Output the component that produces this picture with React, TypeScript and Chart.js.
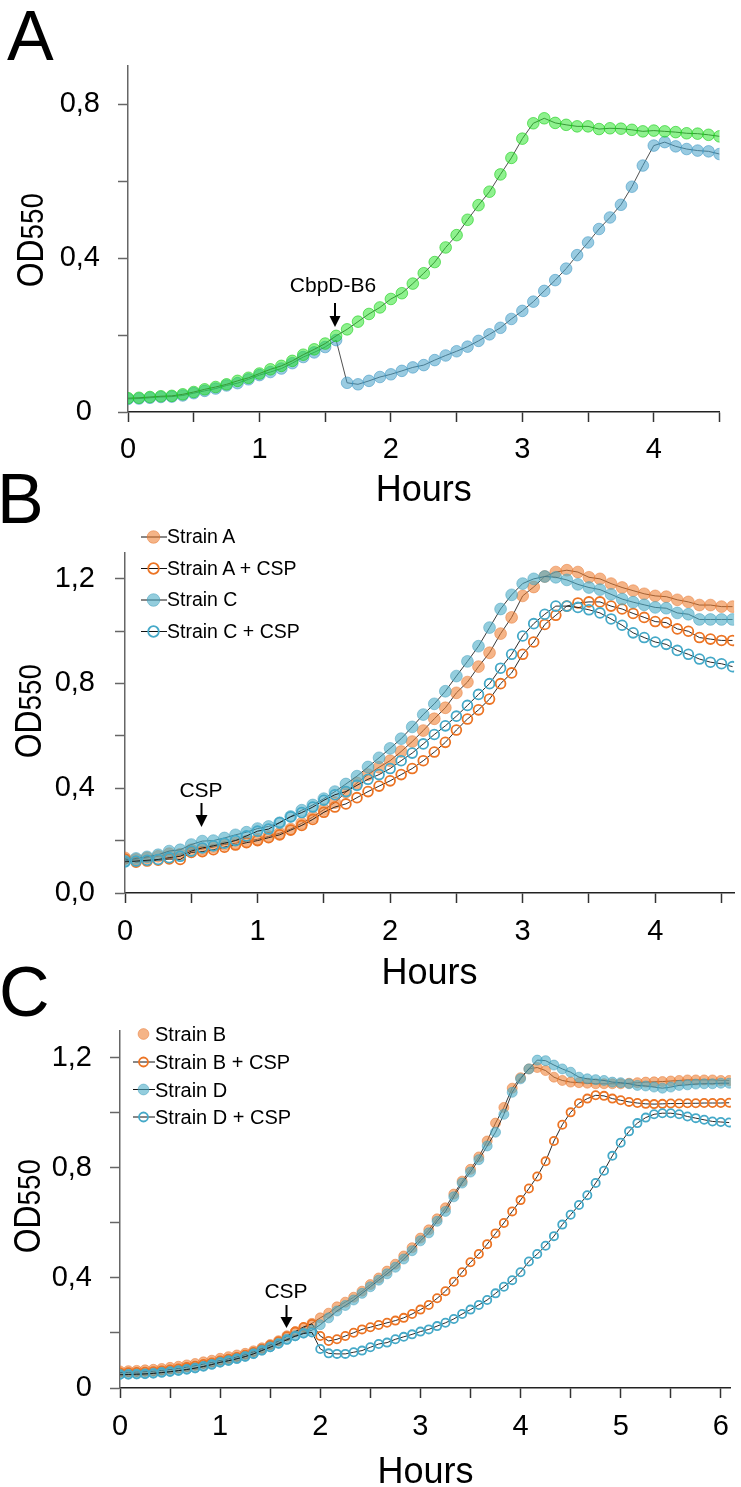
import React, { useEffect, useRef } from 'react';
import { Chart, registerables } from 'chart.js';

Chart.register(...registerables);

const FONT = '"Liberation Sans", Arial, Helvetica, sans-serif';
const SAMPLE_H = 5 / 60; // one reading every 5 minutes

// ---------------- Panel A ----------------
const A_CBPD = [
  0.034, 0.035, 0.037, 0.039, 0.040, 0.043, 0.049, 0.055, 0.061, 0.069,
  0.075, 0.085, 0.096, 0.104, 0.113, 0.127, 0.143, 0.155, 0.169, 0.187,
  0.076, 0.072, 0.081, 0.091, 0.098, 0.107, 0.116, 0.122, 0.135, 0.147,
  0.158, 0.170, 0.185, 0.202, 0.219, 0.242, 0.263, 0.287, 0.315, 0.343,
  0.373, 0.408, 0.441, 0.476, 0.506, 0.539, 0.586, 0.641, 0.693, 0.702,
  0.691, 0.684, 0.680, 0.678, 0.671,
];
const A_CONTROL = [
  0.036, 0.037, 0.039, 0.041, 0.042, 0.046, 0.052, 0.059, 0.065, 0.072,
  0.081, 0.089, 0.100, 0.111, 0.120, 0.133, 0.149, 0.163, 0.178, 0.198,
  0.215, 0.235, 0.255, 0.272, 0.294, 0.309, 0.334, 0.361, 0.390, 0.428,
  0.460, 0.500, 0.538, 0.573, 0.618, 0.661, 0.711, 0.751, 0.764, 0.752,
  0.747, 0.743, 0.743, 0.736, 0.738, 0.737, 0.734, 0.730, 0.732, 0.730,
  0.728, 0.725, 0.724, 0.721, 0.717,
];
const A_X_TICKS = [0, 0.5, 1, 1.5, 2, 2.5, 3, 3.5, 4, 4.5];
const A_X_LABELS = ['0', '', '1', '', '2', '', '3', '', '4', ''];
const A_Y_TICKS = [0, 0.2, 0.4, 0.6, 0.8];
const A_Y_LABELS = ['0\u2008', '', '0,4', '', '0,8'];

// ---------------- Panel B ----------------
const B_STRAIN_A = [
  0.134, 0.128, 0.134, 0.140, 0.150, 0.148, 0.165, 0.168, 0.175, 0.185,
  0.190, 0.198, 0.205, 0.216, 0.228, 0.244, 0.266, 0.290, 0.318, 0.345,
  0.385, 0.420, 0.452, 0.480, 0.505, 0.540, 0.578, 0.620, 0.665, 0.707,
  0.764, 0.805, 0.864, 0.917, 0.990, 1.052, 1.134, 1.168, 1.208, 1.225,
  1.232, 1.225, 1.205, 1.199, 1.181, 1.166, 1.154, 1.142, 1.134, 1.131,
  1.119, 1.111, 1.099, 1.099, 1.093, 1.093,
];
const B_STRAIN_A_CSP = [
  0.130, 0.118, 0.122, 0.125, 0.130, 0.128, 0.155, 0.158, 0.165, 0.175,
  0.183, 0.192, 0.200, 0.211, 0.222, 0.240, 0.258, 0.281, 0.308, 0.328,
  0.340, 0.364, 0.387, 0.408, 0.428, 0.452, 0.475, 0.505, 0.538, 0.575,
  0.622, 0.664, 0.699, 0.740, 0.799, 0.840, 0.911, 0.958, 1.025, 1.060,
  1.095, 1.107, 1.111, 1.111, 1.095, 1.084, 1.067, 1.052, 1.036, 1.032,
  1.008, 0.999, 0.975, 0.969, 0.964, 0.964,
];
const B_STRAIN_C = [
  0.122, 0.132, 0.138, 0.146, 0.160, 0.165, 0.185, 0.198, 0.200, 0.210,
  0.222, 0.232, 0.246, 0.254, 0.268, 0.292, 0.316, 0.336, 0.360, 0.387,
  0.416, 0.446, 0.481, 0.516, 0.552, 0.589, 0.634, 0.681, 0.722, 0.770,
  0.828, 0.884, 0.942, 1.013, 1.084, 1.138, 1.181, 1.199, 1.208, 1.205,
  1.195, 1.178, 1.166, 1.158, 1.140, 1.122, 1.110, 1.100, 1.090, 1.087,
  1.069, 1.064, 1.044, 1.044, 1.044, 1.044,
];
const B_STRAIN_C_CSP = [
  0.119, 0.122, 0.125, 0.128, 0.135, 0.140, 0.160, 0.172, 0.180, 0.190,
  0.200, 0.218, 0.236, 0.244, 0.269, 0.291, 0.307, 0.328, 0.354, 0.375,
  0.387, 0.411, 0.434, 0.452, 0.475, 0.505, 0.534, 0.569, 0.605, 0.638,
  0.675, 0.716, 0.758, 0.799, 0.858, 0.911, 0.981, 1.028, 1.064, 1.095,
  1.095, 1.090, 1.081, 1.069, 1.046, 1.022, 0.993, 0.975, 0.958, 0.949,
  0.926, 0.911, 0.893, 0.881, 0.875, 0.864,
];
const B_X_TICKS = [0, 0.5, 1, 1.5, 2, 2.5, 3, 3.5, 4, 4.5];
const B_X_LABELS = ['0', '', '1', '', '2', '', '3', '', '4', ''];
const B_Y_TICKS = [0, 0.2, 0.4, 0.6, 0.8, 1.0, 1.2];
const B_Y_LABELS = ['0,0', '', '0,4', '', '0,8', '', '1,2'];

// ---------------- Panel C ----------------
const C_STRAIN_B = [
  0.062, 0.063, 0.064, 0.066, 0.068, 0.071, 0.075, 0.079, 0.084, 0.089,
  0.095, 0.101, 0.108, 0.114, 0.120, 0.126, 0.135, 0.146, 0.158, 0.172,
  0.190, 0.205, 0.218, 0.235, 0.255, 0.272, 0.295, 0.312, 0.330, 0.352,
  0.376, 0.400, 0.425, 0.450, 0.480, 0.510, 0.545, 0.575, 0.615, 0.655,
  0.705, 0.752, 0.795, 0.840, 0.898, 0.963, 1.020, 1.090, 1.128, 1.160,
  1.165, 1.154, 1.130, 1.118, 1.112, 1.110, 1.108, 1.106, 1.106, 1.106,
  1.106, 1.108, 1.110, 1.112, 1.113, 1.114, 1.116, 1.118, 1.120, 1.120,
  1.120, 1.120, 1.118, 1.118,
];
const C_STRAIN_B_CSP = [
  0.056, 0.057, 0.058, 0.059, 0.061, 0.064, 0.067, 0.071, 0.076, 0.081,
  0.087, 0.093, 0.100, 0.106, 0.113, 0.121, 0.131, 0.143, 0.156, 0.170,
  0.188, 0.205, 0.222, 0.233, 0.189, 0.171, 0.177, 0.189, 0.201, 0.213,
  0.221, 0.229, 0.237, 0.245, 0.255, 0.269, 0.285, 0.302, 0.326, 0.352,
  0.386, 0.421, 0.457, 0.487, 0.523, 0.562, 0.600, 0.642, 0.683, 0.725,
  0.769, 0.824, 0.898, 0.957, 1.002, 1.035, 1.052, 1.064, 1.062, 1.052,
  1.046, 1.040, 1.036, 1.033, 1.032, 1.033, 1.034, 1.034, 1.035, 1.035,
  1.036, 1.036, 1.036, 1.037,
];
const C_STRAIN_D = [
  0.050, 0.050, 0.051, 0.052, 0.054, 0.057, 0.060, 0.064, 0.068, 0.073,
  0.079, 0.086, 0.094, 0.100, 0.107, 0.115, 0.125, 0.138, 0.150, 0.163,
  0.178, 0.190, 0.200, 0.210, 0.230, 0.255, 0.280, 0.300, 0.320, 0.344,
  0.368, 0.392, 0.415, 0.439, 0.469, 0.499, 0.535, 0.564, 0.606, 0.642,
  0.695, 0.745, 0.785, 0.830, 0.880, 0.930, 0.995, 1.075, 1.124, 1.160,
  1.192, 1.190, 1.174, 1.160, 1.148, 1.130, 1.124, 1.121, 1.118, 1.112,
  1.110, 1.106, 1.100, 1.098, 1.094, 1.090, 1.094, 1.100, 1.102, 1.105,
  1.106, 1.106, 1.108, 1.108,
];
const C_STRAIN_D_CSP = [
  0.048, 0.049, 0.050, 0.051, 0.053, 0.056, 0.059, 0.063, 0.067, 0.072,
  0.078, 0.085, 0.093, 0.099, 0.106, 0.114, 0.124, 0.136, 0.148, 0.161,
  0.175, 0.188, 0.198, 0.202, 0.142, 0.126, 0.124, 0.124, 0.130, 0.136,
  0.148, 0.160, 0.165, 0.177, 0.186, 0.195, 0.205, 0.213, 0.225, 0.237,
  0.251, 0.269, 0.285, 0.302, 0.320, 0.344, 0.368, 0.392, 0.421, 0.460,
  0.487, 0.517, 0.552, 0.594, 0.630, 0.665, 0.701, 0.745, 0.790, 0.844,
  0.892, 0.933, 0.963, 0.983, 0.995, 0.999, 0.999, 0.995, 0.987, 0.981,
  0.975, 0.969, 0.967, 0.965,
];
const C_X_TICKS = [0, 0.5, 1, 1.5, 2, 2.5, 3, 3.5, 4, 4.5, 5, 5.5, 6];
const C_X_LABELS = ['0', '', '1', '', '2', '', '3', '', '4', '', '5', '', '6'];
const C_Y_TICKS = [0, 0.2, 0.4, 0.6, 0.8, 1.0, 1.2];
const C_Y_LABELS = ['0', '', '0,4', '', '0,8', '', '1,2'];

// ---------------- styles ----------------
const ORANGE = '#EC7424';
const ORANGE_FILL = 'rgba(237,125,49,0.58)';
const ORANGE_EDGE = 'rgba(232,120,50,0.5)';
const BLUE = '#45A9C8';
const BLUE_FILL = 'rgba(75,172,198,0.6)';
const BLUE_EDGE = 'rgba(65,160,190,0.5)';
const GREEN_FILL = 'rgba(30,228,30,0.5)';
const GREEN_EDGE = 'rgba(25,205,25,0.6)';
const LBLUE_FILL = 'rgba(70,160,200,0.55)';
const LBLUE_EDGE = 'rgba(60,150,195,0.55)';

interface SeriesDef {
  label: string;
  values: number[];
  fill: string;
  edge: string;
  edgeW: number;
  r: number;
  line: string;
  lw: number;
  legendLine?: boolean;
}

interface PanelDef {
  top: number;
  height: number;
  yAxisW: number;
  xAxisH: number;
  padTop: number;
  padRight: number;
  xMax: number;
  yMax: number;
  xTicks: number[];
  xLabels: string[];
  yTicks: number[];
  yLabels: string[];
  xPad: number;
  yPad: number;
  titlePad: number;
  series: SeriesDef[];
}

const filled = (label: string, values: number[], fill: string, edge: string, r: number, line: string, lw: number, legendLine = true): SeriesDef =>
  ({ label, values, fill, edge, edgeW: 1, r, line, lw, legendLine });
const open = (label: string, values: number[], color: string, r: number, lw: number): SeriesDef =>
  ({ label, values, fill: 'rgba(255,255,255,0)', edge: color, edgeW: 1.8, r, line: '#111', lw, legendLine: true });

const PANEL_A: PanelDef = {
  top: 0, height: 515, yAxisW: 128, xAxisH: 103, padTop: 66, padRight: 21.5,
  xMax: 4.5, yMax: 0.9,
  xTicks: A_X_TICKS, xLabels: A_X_LABELS, yTicks: A_Y_TICKS, yLabels: A_Y_LABELS,
  xPad: 11, yPad: 18, titlePad: 5.5,
  series: [
    filled('CbpD-B6', A_CBPD, LBLUE_FILL, LBLUE_EDGE, 5.8, '#505050', 1),
    filled('Control', A_CONTROL, GREEN_FILL, GREEN_EDGE, 5.8, '#505050', 1),
  ],
};

const SERIES_B: SeriesDef[] = [
  filled('Strain A', B_STRAIN_A, ORANGE_FILL, ORANGE_EDGE, 5.9, '#222', 0.9),
  open('Strain A + CSP', B_STRAIN_A_CSP, ORANGE, 4.9, 0.9),
  filled('Strain C', B_STRAIN_C, BLUE_FILL, BLUE_EDGE, 5.9, '#222', 0.9),
  open('Strain C + CSP', B_STRAIN_C_CSP, BLUE, 4.9, 0.9),
];

const PANEL_B: PanelDef = {
  top: 515, height: 480, yAxisW: 125, xAxisH: 102, padTop: 11, padRight: 0,
  xMax: 4.595, yMax: 1.3,
  xTicks: B_X_TICKS, xLabels: B_X_LABELS, yTicks: B_Y_TICKS, yLabels: B_Y_LABELS,
  xPad: 12, yPad: 20, titlePad: 2.5,
  series: SERIES_B,
};

const SERIES_C: SeriesDef[] = [
  filled('Strain B', C_STRAIN_B, ORANGE_FILL, ORANGE_EDGE, 5, '#222', 0.9, false),
  open('Strain B + CSP', C_STRAIN_B_CSP, ORANGE, 4.1, 0.9),
  filled('Strain D', C_STRAIN_D, BLUE_FILL, BLUE_EDGE, 5, '#222', 0.9),
  open('Strain D + CSP', C_STRAIN_D_CSP, BLUE, 4.1, 0.9),
];

const PANEL_C: PanelDef = {
  top: 995, height: 500, yAxisW: 120, xAxisH: 107, padTop: 29, padRight: 5.5,
  xMax: 6.1, yMax: 1.3,
  xTicks: C_X_TICKS, xLabels: C_X_LABELS, yTicks: C_Y_TICKS, yLabels: C_Y_LABELS,
  xPad: 12, yPad: 18, titlePad: 3.5,
  series: SERIES_C,
};

const PANELS = [PANEL_A, PANEL_B, PANEL_C];

function buildConfig(p: PanelDef): any {
  const n = p.series.length;
  return {
    type: 'line',
    data: {
      datasets: p.series.map((s, i) => ({
        label: s.label,
        data: s.values.map((v, k) => ({ x: k * SAMPLE_H, y: v })),
        borderColor: s.line,
        borderWidth: s.lw,
        pointRadius: s.r,
        pointHoverRadius: s.r,
        pointBackgroundColor: s.fill,
        pointBorderColor: s.edge,
        pointBorderWidth: s.edgeW,
        pointStyle: 'circle',
        tension: 0,
        fill: false,
        order: n - 1 - i,
      })),
    },
    options: {
      animation: false,
      responsive: false,
      maintainAspectRatio: false,
      devicePixelRatio: 1,
      events: [],
      layout: { padding: { top: p.padTop, right: p.padRight, bottom: 0, left: 0 } },
      plugins: { legend: { display: false }, tooltip: { enabled: false }, title: { display: false } },
      scales: {
        x: {
          type: 'linear',
          min: 0,
          max: p.xMax,
          afterBuildTicks: (s: any) => { s.ticks = p.xTicks.map((v) => ({ value: v })); },
          afterFit: (s: any) => { s.height = p.xAxisH; },
          ticks: {
            autoSkip: false,
            maxRotation: 0,
            minRotation: 0,
            padding: p.xPad,
            color: '#000',
            font: { family: FONT, size: 29, lineHeight: 1.2 },
            callback: (_v: any, i: number) => p.xLabels[i],
          },
          grid: { drawOnChartArea: false, drawTicks: true, tickLength: 10, tickColor: '#333', tickWidth: 1.5 },
          border: { display: true, color: '#222', width: 1.5 },
          title: {
            display: true,
            text: 'Hours',
            color: '#000',
            font: { family: FONT, size: 36, lineHeight: 1 },
            padding: { top: 0, bottom: p.titlePad },
          },
        },
        y: {
          type: 'linear',
          min: 0,
          max: p.yMax,
          afterBuildTicks: (s: any) => { s.ticks = p.yTicks.map((v) => ({ value: v })); },
          afterFit: (s: any) => { s.width = p.yAxisW; },
          ticks: {
            autoSkip: false,
            padding: p.yPad,
            color: '#000',
            font: { family: FONT, size: 29, lineHeight: 1.2 },
            callback: (_v: any, i: number) => p.yLabels[i],
          },
          grid: { drawOnChartArea: false, drawTicks: true, tickLength: 10, tickColor: '#666', tickWidth: 1.5 },
          border: { display: true, color: '#666', width: 1.5 },
        },
      },
    },
  };
}

function PanelChart({ def }: { def: PanelDef }) {
  const ref = useRef<HTMLCanvasElement>(null);
  useEffect(() => {
    if (!ref.current) return;
    const chart = new Chart(ref.current, buildConfig(def));
    return () => chart.destroy();
  }, [def]);
  return (
    <canvas
      ref={ref}
      width={741}
      height={def.height}
      style={{ position: 'absolute', left: 0, top: def.top, width: 741, height: def.height }}
    />
  );
}

// text whose cap-top is at `capTop`
function Text({ x, capTop, size, children, center }: { x: number; capTop: number; size: number; children: any; center?: boolean }) {
  return (
    <div
      style={{
        position: 'absolute',
        left: x,
        top: capTop - 0.1305 * size,
        fontFamily: FONT,
        fontSize: size,
        lineHeight: 1,
        whiteSpace: 'nowrap',
        color: '#000',
        transform: center ? 'translateX(-50%)' : undefined,
      }}
    >
      {children}
    </div>
  );
}

function YTitle({ cx, cy }: { cx: number; cy: number }) {
  return (
    <div
      style={{
        position: 'absolute',
        left: cx,
        top: cy,
        fontFamily: FONT,
        lineHeight: 1,
        whiteSpace: 'nowrap',
        color: '#000',
        transform: 'translate(-50%, -50%) rotate(-90deg) scaleY(1.15)',
      }}
    >
      <span style={{ fontSize: 32 }}>OD</span>
      <span style={{ fontSize: 27, letterSpacing: 0.5 }}>550</span>
    </div>
  );
}

function Arrow({ x, y0, tip, head, w }: { x: number; y0: number; tip: number; head: number; w: number }) {
  return (
    <g>
      <line x1={x} y1={y0} x2={x} y2={tip - head + 1} stroke="#000" strokeWidth={2} />
      <polygon points={`${x - w / 2},${tip - head} ${x + w / 2},${tip - head} ${x},${tip}`} fill="#000" />
    </g>
  );
}

function LegendRows({ series, rows, lineX1, lineX2, markX, textX, size }: { series: SeriesDef[]; rows: number[]; lineX1: number; lineX2: number; markX: number; textX: number; size: number }) {
  return (
    <>
      <svg width={741} height={1487} style={{ position: 'absolute', left: 0, top: 0, pointerEvents: 'none' }}>
        {series.map((s, i) => (
          <g key={i}>
            {s.legendLine !== false && (
              <line x1={lineX1} y1={rows[i]} x2={lineX2} y2={rows[i]} stroke="#111" strokeWidth={1} />
            )}
            <circle cx={markX} cy={rows[i]} r={s.r + 0.4} fill={s.fill} stroke={s.edge} strokeWidth={s.edgeW} />
          </g>
        ))}
      </svg>
      {series.map((s, i) => (
        <Text key={i} x={textX} capTop={rows[i] - 0.358 * size} size={size}>{s.label}</Text>
      ))}
    </>
  );
}

export default function App() {
  return (
    <div style={{ position: 'absolute', left: 0, top: 0, width: 741, height: 1487, background: '#fff', overflow: 'hidden' }}>
      {PANELS.map((p, i) => <PanelChart key={i} def={p} />)}

      {/* panel letters */}
      <Text x={7} capTop={10} size={70}>A</Text>
      <Text x={-3} capTop={473} size={70}>B</Text>
      <Text x={-1} capTop={966} size={70}>C</Text>

      {/* y axis titles */}
      <YTitle cx={30} cy={240} />
      <YTitle cx={28} cy={711} />
      <YTitle cx={27} cy={1206} />

      {/* annotations */}
      <Text x={333} capTop={277} size={21} center>CbpD-B6</Text>
      <Text x={201} capTop={782} size={21} center>CSP</Text>
      <Text x={286} capTop={1283} size={21} center>CSP</Text>
      <svg width={741} height={1487} style={{ position: 'absolute', left: 0, top: 0, pointerEvents: 'none' }}>
        <Arrow x={335} y0={303} tip={327} head={11} w={11} />
        <Arrow x={201.5} y0={803} tip={827} head={12} w={12} />
        <Arrow x={286.5} y0={1305} tip={1328} head={11} w={12} />
      </svg>

      {/* legends */}
      <LegendRows series={SERIES_B} rows={[537, 568.5, 600, 631.5]} lineX1={141} lineX2={167} markX={153.5} textX={167} size={19.5} />
      <LegendRows series={SERIES_C} rows={[1034, 1062, 1089.5, 1117]} lineX1={133} lineX2={155} markX={143.5} textX={155} size={20} />
    </div>
  );
}
